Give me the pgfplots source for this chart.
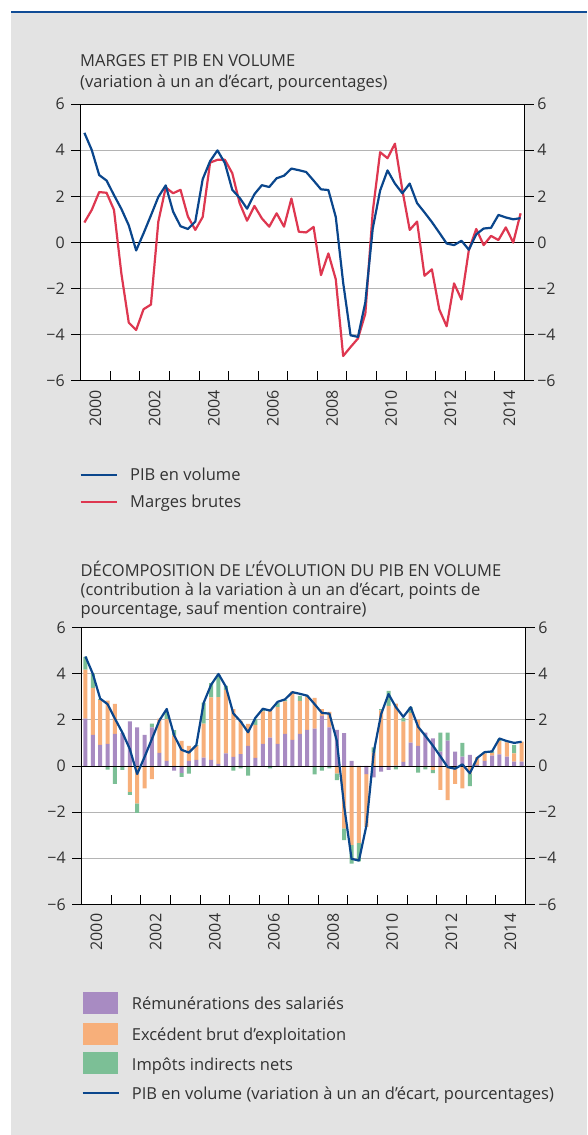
\documentclass[border=0pt]{standalone}
\usepackage{pgfplots}
\pgfplotsset{compat=1.18}
\usepackage{pgfplotstable}
\usepackage{fontspec}
\setmainfont{Open Sans}
\definecolor{bg}{RGB}{227,227,227}
\definecolor{topblue}{RGB}{16,76,150}
\definecolor{pib}{RGB}{10,70,140}
\definecolor{marg}{RGB}{222,55,80}
\definecolor{rem}{RGB}{168,139,194}
\definecolor{ebe}{RGB}{247,175,122}
\definecolor{imp}{RGB}{124,191,150}
\definecolor{gridc}{RGB}{180,180,180}
\definecolor{txt}{RGB}{50,50,50}
\newcommand\tf{\fontsize{16.5pt}{20pt}\selectfont}
\newcommand\tkf{\fontsize{16pt}{20pt}\selectfont}

\pgfplotstableread{
x pib marges
2000.125 4.75 0.86
2000.375 4.00 1.41
2000.625 2.92 2.18
2000.875 2.68 2.15
2001.125 2.05 1.41
2001.375 1.45 -1.35
2001.625 0.74 -3.48
2001.875 -0.35 -3.80
2002.125 0.39 -2.90
2002.375 1.17 -2.70
2002.625 1.97 0.90
2002.875 2.47 2.38
2003.125 1.33 2.13
2003.375 0.70 2.28
2003.625 0.58 1.12
2003.875 0.90 0.54
2004.125 2.74 1.10
2004.375 3.52 3.46
2004.625 3.99 3.58
2004.875 3.44 3.58
2005.125 2.28 3.00
2005.375 1.93 1.70
2005.625 1.46 0.94
2005.875 2.09 1.58
2006.125 2.48 1.04
2006.375 2.40 0.68
2006.625 2.78 1.26
2006.875 2.89 0.68
2007.125 3.20 1.90
2007.375 3.13 0.46
2007.625 3.05 0.43
2007.875 2.68 0.67
2008.125 2.30 -1.42
2008.375 2.27 -0.48
2008.625 1.10 -1.60
2008.875 -1.75 -4.93
2009.125 -4.03 -4.54
2009.375 -4.10 -4.17
2009.625 -2.60 -3.09
2009.875 0.60 1.33
2010.125 2.25 3.91
2010.375 3.12 3.65
2010.625 2.55 4.28
2010.875 2.13 2.28
2011.125 2.55 0.54
2011.375 1.70 0.90
2011.625 1.30 -1.45
2011.875 0.88 -1.17
2012.125 0.42 -2.91
2012.375 -0.05 -3.64
2012.625 -0.12 -1.78
2012.875 0.07 -2.48
2013.125 -0.32 -0.33
2013.375 0.35 0.58
2013.625 0.60 -0.12
2013.875 0.63 0.28
2014.125 1.19 0.10
2014.375 1.08 0.65
2014.625 1.00 -0.01
2014.875 1.05 1.26
}\series

\pgfplotstableread{
x Rp Ep Ip Rn En In
2000.125 2.05 2.13 0.55 0 0 0
2000.375 1.35 2.04 0.60 0 0 0
2000.625 0.91 1.96 0.03 0 0 0
2000.875 0.96 1.87 0 0 0 -0.16
2001.125 1.39 1.30 0 0 0 -0.78
2001.375 1.42 0 0 0 0 -0.17
2001.625 1.93 0 0 0 -1.12 -0.13
2001.875 1.67 0 0 0 -1.62 -0.41
2002.125 1.35 0 0 0 -0.97 0
2002.375 1.67 0 0.17 0 -0.57 0
2002.625 0.57 1.48 0 0 0 0
2002.875 0.22 1.81 0.30 0 0 0
2003.125 0 1.33 0.22 -0.20 0 0
2003.375 0 1.09 0 -0.30 0 -0.17
2003.625 0.22 0.65 0 0 0 -0.33
2003.875 0.26 0.61 0.03 0 0 0
2004.125 0.36 1.48 0.91 0 0 0
2004.375 0.26 2.71 0.62 0 0 0
2004.625 0.09 2.90 0.97 0 0 0
2004.875 0.55 2.75 0.17 0 0 0
2005.125 0.39 2.07 0 0 0 -0.20
2005.375 0.51 1.45 0 0 0 -0.10
2005.625 0.87 0.96 0 0 0 -0.42
2005.875 0.35 1.43 0.25 0 0 0
2006.125 0.96 1.41 0.10 0 0 0
2006.375 1.23 1.21 0 0 0 -0.10
2006.625 0.96 1.59 0.17 0 0 0
2006.875 1.39 1.41 0.07 0 0 0
2007.125 1.13 2.10 0 0 0 -0.05
2007.375 1.39 1.43 0.22 0 0 0
2007.625 1.57 1.42 0.03 0 0 0
2007.875 1.62 1.33 0 0 0 -0.36
2008.125 2.17 0.29 0 0 0 -0.20
2008.375 1.67 0.68 0 0 0 -0.10
2008.625 1.57 0 0 0 -0.32 -0.29
2008.875 1.42 0 0 0 -2.71 -0.51
2009.125 0.22 0 0 0 -3.43 -0.81
2009.375 0 0 0 -0.05 -3.29 -0.80
2009.625 0 0 0 -0.35 -2.29 0
2009.875 0 0.58 0.23 -0.49 0 0
2010.125 0 2.41 0.06 -0.25 0 0
2010.375 0 2.61 0.65 -0.17 0 0
2010.625 0.02 2.68 0 0 0 -0.15
2010.875 0.18 1.74 0.15 0 0 0
2011.125 1.01 1.28 0.26 0 0 0
2011.375 0.87 1.13 0 0 0 -0.29
2011.625 1.45 0 0 0 -0.05 -0.10
2011.875 1.20 0 0 0 -0.17 -0.14
2012.125 0.62 0 0.83 0 -1.04 0
2012.375 1.10 0 0.35 0 -1.48 0
2012.625 0.62 0 0 0 -0.78 0
2012.875 0.40 0 0.60 0 -0.97 0
2013.125 0.48 0 0 0 -0.32 -0.55
2013.375 0.05 0.32 0 0 0 0
2013.625 0.22 0.33 0.04 0 0 0
2013.875 0.45 0.12 0.06 0 0 0
2014.125 0.50 0.58 0.10 0 0 0
2014.375 0.40 0.62 0.05 0 0 0
2014.625 0.19 0.36 0.36 0 0 0
2014.875 0.19 0.87 0 0 0 -0.05
}\bars

\pgfplotsset{
  panel/.style={scale only axis, width=443.6pt, height=276.7pt,
    xmin=2000, xmax=2015, ymin=-6, ymax=6, anchor=south west},
  mainbox/.style={panel,
    axis background/.style={fill=white},
    axis line style={black, line width=0.8pt},
    tick style={black, line width=0.8pt},
    major tick length=9.5pt,
    ytick={-6,-4,...,6}, yticklabels={−6,−4,−2,0,2,4,6},
    ytick pos=left, ytick align=outside,
    ymajorgrids, grid style={gridc, line width=0.9pt},
    xtick={2001,...,2014}, xticklabels={}, xtick align=inside, xtick pos=lower,
    extra x ticks={2000.5,2002.5,...,2014.5},
    extra x tick labels={2000,2002,2004,2006,2008,2010,2012,2014},
    extra x tick style={major tick length=0pt, tick style={draw=none},
      xticklabel style={yshift=-6pt, rotate=90, anchor=east}},
    ticklabel style={font=\tkf, text=txt},
    yticklabel style={xshift=-3pt}},
  rightax/.style={panel,
    axis x line=none, axis y line*=right,
    axis line style={black, line width=0.8pt},
    tick style={black, line width=0.8pt},
    major tick length=9.5pt, ytick align=outside,
    ytick={-6,-4,...,6}, yticklabels={−6,−4,−2,0,2,4,6},
    xtick=\empty,
    ticklabel style={font=\tkf, text=txt},
    yticklabel style={xshift=0pt}},
}

\begin{document}
\begin{tikzpicture}
\useasboundingbox (0,0) rectangle (587pt,-1135pt);
\fill[white] (0,0) rectangle (587pt,-1135pt);
\fill[bg] (11pt,-12pt) rectangle (587pt,-1135pt);
\draw[topblue, line width=2pt] (11pt,-12pt) -- (587pt,-12pt);

% ---------- Panel 1 ----------
\node[anchor=base west, font=\tf, text=txt, inner sep=0pt] at (80pt,-66.7pt) {MARGES ET PIB EN VOLUME};
\node[anchor=base west, font=\tf, text=txt, inner sep=0pt] at (80pt,-87.3pt) {(variation à un an d’écart, pourcentages)};

\begin{axis}[mainbox, at={(80.7pt,-380.7pt)}]
\end{axis}
\begin{axis}[rightax, at={(80.7pt,-380.7pt)}]
\addplot[black, line width=0.9pt] coordinates {(2000,0) (2015,0)};
\addplot[marg, line width=2.2pt, line join=round] table[x=x, y=marges] {\series};
\addplot[pib, line width=2.2pt, line join=round] table[x=x, y=pib] {\series};
\end{axis}

\draw[pib, line width=2.2pt] (80.7pt,-475.3pt) -- (117.3pt,-475.3pt);
\node[anchor=base west, font=\tf, text=txt, inner sep=0pt] at (130pt,-480.7pt) {PIB en volume};
\draw[marg, line width=2.2pt] (80.7pt,-502.3pt) -- (117.3pt,-502.3pt);
\node[anchor=base west, font=\tf, text=txt, inner sep=0pt] at (130pt,-507pt) {Marges brutes};

% ---------- Panel 2 ----------
\node[anchor=base west, font=\tf, text=txt, inner sep=0pt] at (80.5pt,-576.7pt) {DÉCOMPOSITION DE L’ÉVOLUTION DU PIB EN VOLUME};
\node[anchor=base west, font=\tf, text=txt, inner sep=0pt] at (80.5pt,-595.5pt) {(contribution à la variation à un an d’écart, points de};
\node[anchor=base west, font=\tf, text=txt, inner sep=0pt] at (80.5pt,-614pt) {pourcentage, sauf mention contraire)};

\begin{axis}[mainbox, at={(81.7pt,-904.3pt)}, ybar stacked, bar width=4pt]
\addplot[draw=none, fill=rem] table[x=x, y=Rp] {\bars};
\addplot[draw=none, fill=ebe] table[x=x, y=Ep] {\bars};
\addplot[draw=none, fill=imp] table[x=x, y=Ip] {\bars};
\end{axis}
\begin{axis}[panel, at={(81.7pt,-904.3pt)}, hide axis, ybar stacked, bar width=4pt]
\addplot[draw=none, fill=rem] table[x=x, y=Rn] {\bars};
\addplot[draw=none, fill=ebe] table[x=x, y=En] {\bars};
\addplot[draw=none, fill=imp] table[x=x, y=In] {\bars};
\end{axis}
\begin{axis}[rightax, at={(81.7pt,-904.3pt)}]
\addplot[black, line width=0.9pt] coordinates {(2000,0) (2015,0)};
\addplot[pib, line width=2.2pt, line join=round] table[x=x, y=pib] {\series};
\end{axis}

\fill[rem] (82.7pt,-991.7pt) rectangle (118pt,-1014pt);
\node[anchor=base west, font=\tf, text=txt, inner sep=0pt] at (131.7pt,-1009pt) {Rémunérations des salariés};
\fill[ebe] (82.7pt,-1022.7pt) rectangle (118pt,-1045pt);
\node[anchor=base west, font=\tf, text=txt, inner sep=0pt] at (131.7pt,-1040.7pt) {Excédent brut d’exploitation};
\fill[imp] (82.7pt,-1052pt) rectangle (118pt,-1074pt);
\node[anchor=base west, font=\tf, text=txt, inner sep=0pt] at (131.7pt,-1070pt) {Impôts indirects nets};
\draw[pib, line width=2.2pt] (82.7pt,-1093pt) -- (119pt,-1093pt);
\node[anchor=base west, font=\tf, text=txt, inner sep=0pt] at (131.7pt,-1099pt) {PIB en volume (variation à un an d’écart, pourcentages)};
\end{tikzpicture}
\end{document}
